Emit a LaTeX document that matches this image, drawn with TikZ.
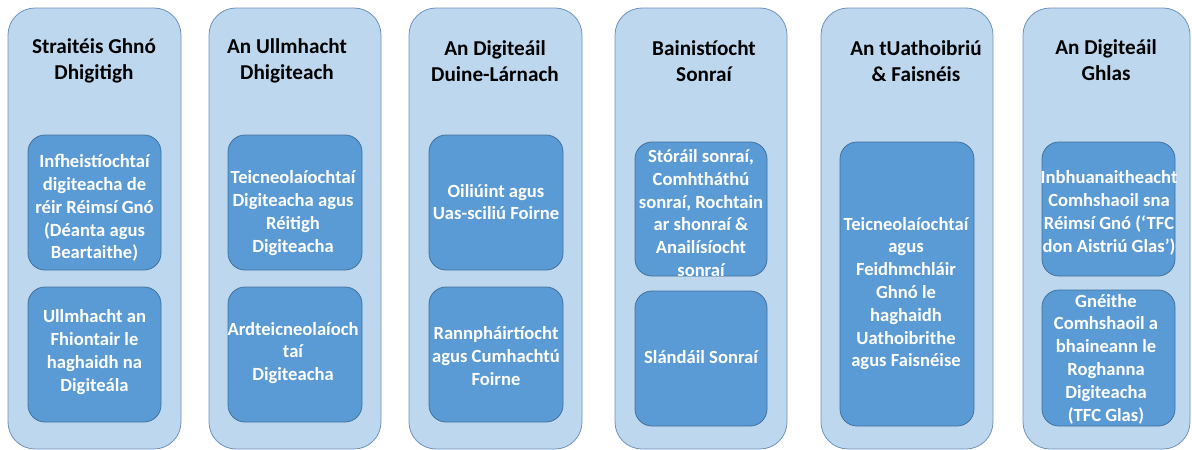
\documentclass[tikz,border=0pt]{standalone}
\usepackage{fontspec}
\setmainfont{Carlito}
\definecolor{outerfill}{HTML}{BDD7EE}
\definecolor{outerline}{HTML}{6F93BD}
\definecolor{innerfill}{HTML}{5B9BD5}
\definecolor{innerline}{HTML}{41719C}
\begin{document}
\begin{tikzpicture}[x=1pt,y=-1pt,
  outerbox/.style={draw=outerline,fill=outerfill,line width=0.8pt,rounded corners=27pt},
  innerbox/.style={draw=innerline,fill=innerfill,line width=0.8pt,rounded corners=17pt},
  titletext/.style={font=\bfseries\fontsize{21.2}{26}\selectfont,align=center,text=black,inner sep=0pt},
  boxtext/.style={font=\bfseries\fontsize{18.6}{22.8}\selectfont,align=center,text=white,inner sep=0pt}]
\useasboundingbox (0,0) rectangle (1192,450);
\clip (0,0) rectangle (1192,450);
% outer columns
\path[outerbox] (8,8) rectangle (181,449);
\path[outerbox] (209,8) rectangle (381,449);
\path[outerbox] (409,8) rectangle (582,449);
\path[outerbox] (615,8) rectangle (787,449);
\path[outerbox] (821,8) rectangle (993,449);
\path[outerbox] (1023,8) rectangle (1190,449);
% titles
\node[titletext] (t1) at (94,61) {Straitéis Ghnó\\Dhigitigh};
\node[titletext] (t2) at (287,61) {An Ullmhacht\\Dhigiteach};
\node[titletext] (t3) at (495,61) {An Digiteáil\\Duine-Lárnach};
\node[titletext] (t4) at (704,61) {Bainistíocht\\Sonraí};
\node[titletext] (t5) at (916,61) {An tUathoibriú\\\& Faisnéis};
\node[titletext] (t6) at (1106,60) {An Digiteáil\\Ghlas};
% inner boxes
\path[innerbox] (28,135) rectangle (161,270);
\path[innerbox] (28,287) rectangle (161,422);
\path[innerbox] (228,135) rectangle (362,270);
\path[innerbox] (228,287) rectangle (362,422);
\path[innerbox] (429,135) rectangle (563,270);
\path[innerbox] (429,287) rectangle (563,422);
\path[innerbox] (635,142) rectangle (767,276);
\path[innerbox] (635,291) rectangle (767,426);
\path[innerbox] (840,142) rectangle (974,426);
\path[innerbox] (1042,142) rectangle (1175,276);
\path[innerbox] (1042,290) rectangle (1175,426);
% inner texts
\node[boxtext] (a1) at (94.5,208) {Infheistíochtaí\\digiteacha de\\réir Réimsí Gnó\\(Déanta agus\\Beartaithe)};
\node[boxtext] (a2) at (94.5,352) {Ullmhacht an\\Fhiontair le\\haghaidh na\\Digiteála};
\node[boxtext] (b1) at (293,213) {Teicneolaíochtaí\\Digiteacha agus\\Réitigh\\Digiteacha};
\node[boxtext] (b2) at (293,353) {Ardteicneolaíoch\\taí\\Digiteacha};
\node[boxtext] (c1) at (496,202) {Oiliúint agus\\Uas-sciliú Foirne};
\node[boxtext] (c2) at (496,356) {Rannpháirtíocht\\agus Cumhachtú\\Foirne};
\node[boxtext] (d1) at (701,213) {Stóráil sonraí,\\Comhtháthú\\sonraí, Rochtain\\ar shonraí \&\\Anailísíocht\\sonraí};
\node[boxtext] (d2) at (701,357) {Slándáil Sonraí};
\node[boxtext] (e1) at (906,293.5) {Teicneolaíochtaí\\agus\\Feidhmchláir\\Ghnó le\\haghaidh\\Uathoibrithe\\agus Faisnéise};
\node[boxtext] (f1) at (1109,213) {Inbhuanaitheacht\\Comhshaoil sna\\Réimsí Gnó (‘TFC\\don Aistriú Glas’)};
\node[boxtext] (f2) at (1106,359) {Gnéithe\\Comhshaoil a\\bhaineann le\\Roghanna\\Digiteacha\\(TFC Glas)};
\end{tikzpicture}
\end{document}
